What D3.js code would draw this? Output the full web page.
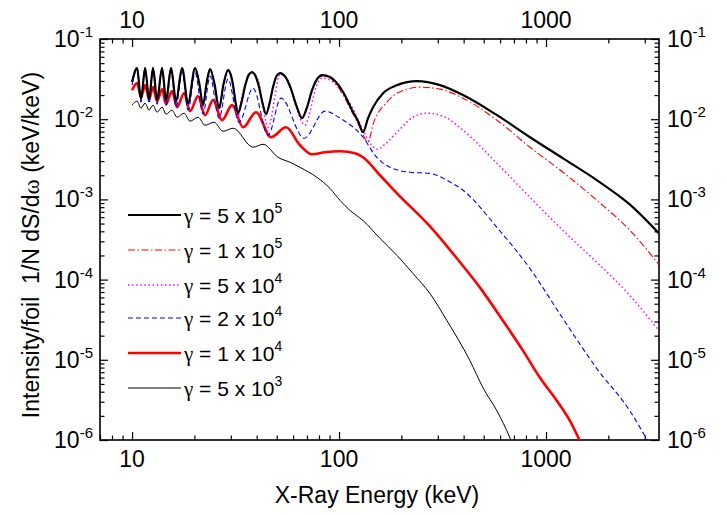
<!DOCTYPE html>
<html>
<head>
<meta charset="utf-8">
<script src="https://cdn.jsdelivr.net/npm/d3@7"></script>
<style>
  body { margin: 0; background: #fff; }
  svg { display: block; }
  text { font-family: "Liberation Sans", Arial, Helvetica, sans-serif; fill: #000; }
</style>
</head>
<body>
<svg id="chart" width="727" height="515"></svg>
<script>
// Tick labels
const energyTicks = [10, 100, 1000];
const intensityExponents = [-1, -2, -3, -4, -5, -6];

// Legend text: gamma = mantissa x 10^exponent
const legendMantissa = ["5", "1", "5", "2", "1", "5"];
const legendExponent = ["5", "5", "4", "4", "4", "3"];

// Spectra: [X-ray energy (keV), intensity per foil (keV/keV)]
const gamma5e5 = [
  [10.0, 0.0290], [10.57, 0.0434], [11.05, 0.0178], [11.56, 0.0434], [12.08, 0.0178],
  [12.63, 0.0434], [13.21, 0.0173], [13.96, 0.0434], [14.60, 0.0173], [15.43, 0.0434],
  [16.31, 0.0168], [17.44, 0.0434], [18.64, 0.0158], [20.16, 0.0434], [21.07, 0.0290],
  [22.03, 0.0150], [22.91, 0.0282], [23.81, 0.0422], [25.03, 0.0274], [26.32, 0.0137],
  [27.67, 0.0274], [29.09, 0.0410], [29.91, 0.0365], [30.76, 0.0266], [31.62, 0.0163],
  [32.51, 0.0119], [33.81, 0.0163], [35.15, 0.0259], [36.54, 0.0355], [37.99, 0.0387],
  [39.50, 0.0345], [41.07, 0.0251], [42.71, 0.0158], [44.39, 0.0116], [46.16, 0.0158],
  [47.99, 0.0251], [49.90, 0.0345], [51.87, 0.0376], [55.15, 0.0335], [58.63, 0.0237],
  [62.32, 0.01454], [66.26, 0.0103], [70.06, 0.01413], [74.06, 0.0230], [78.30, 0.0316],
  [82.77, 0.0355], [90.48, 0.0335], [104.6, 0.0218], [115.6, 0.01296], [123.6, 0.00944],
  [130.6, 0.00688], [138.1, 0.0103], [146.0, 0.0141], [163.2, 0.0211], [190.6, 0.0266],
  [238.1, 0.0299], [307.6, 0.0266], [397.2, 0.0200], [579.8, 0.01122], [837, 0.00596],
  [1208, 0.00325], [1764, 0.00173], [2546, 0.00086], [3515, 0.000376]
];

const gamma1e5 = [
  [10.0, 0.0290], [10.57, 0.0434], [11.05, 0.0178], [11.56, 0.0434], [12.08, 0.0178],
  [12.63, 0.0434], [13.21, 0.0173], [13.96, 0.0434], [14.60, 0.0173], [15.43, 0.0434],
  [16.31, 0.0168], [17.44, 0.0434], [18.64, 0.0158], [20.16, 0.0434], [21.07, 0.0290],
  [22.03, 0.0150], [22.91, 0.0282], [23.81, 0.0422], [25.03, 0.0274], [26.32, 0.0137],
  [27.67, 0.0274], [29.09, 0.0410], [29.91, 0.0365], [30.76, 0.0266], [31.62, 0.0163],
  [32.51, 0.0119], [33.81, 0.0163], [35.15, 0.0259], [36.54, 0.0355], [37.99, 0.0387],
  [39.50, 0.0345], [41.07, 0.0251], [42.71, 0.0158], [44.39, 0.0116], [46.16, 0.0158],
  [47.99, 0.0251], [49.90, 0.0345], [51.87, 0.0376], [55.15, 0.0335], [58.63, 0.0237],
  [62.32, 0.01454], [66.26, 0.0103], [70.06, 0.01413], [74.06, 0.0230], [78.30, 0.0316],
  [82.77, 0.0345], [90.48, 0.0326], [104.6, 0.0200], [115.6, 0.01223], [126.3, 0.00794],
  [138.1, 0.00516], [146.0, 0.00866], [170.6, 0.01631], [190.6, 0.0211], [246.2, 0.0251],
  [307.6, 0.0237], [397.2, 0.0183], [579.8, 0.00972], [837, 0.00447], [1208, 0.00218],
  [1764, 0.000972], [2546, 0.00041], [3515, 0.000154]
];

const gamma5e4 = [
  [10.0, 0.0290], [10.57, 0.0434], [11.05, 0.0178], [11.56, 0.0434], [12.08, 0.0178],
  [12.63, 0.0434], [13.21, 0.0173], [13.96, 0.0434], [14.60, 0.0173], [15.43, 0.0434],
  [16.31, 0.0168], [17.44, 0.0434], [18.64, 0.0155], [20.16, 0.0434], [21.07, 0.0285],
  [22.03, 0.0145], [22.91, 0.0278], [23.81, 0.0422], [25.03, 0.0270], [26.32, 0.0130],
  [27.67, 0.0270], [29.09, 0.0410], [30.08, 0.0345], [31.45, 0.0183], [32.51, 0.0106],
  [33.62, 0.0173], [35.54, 0.0290], [37.99, 0.0376], [40.62, 0.0307], [42.46, 0.0173],
  [44.39, 0.00917], [45.39, 0.00794], [46.93, 0.0100], [49.07, 0.0200], [51.87, 0.0365],
  [56.70, 0.0307], [61.32, 0.0158], [66.26, 0.00917], [68.50, 0.00841], [71.62, 0.01122],
  [76.58, 0.0230], [82.77, 0.0326], [90.48, 0.0307], [104.6, 0.0211], [115.6, 0.01413],
  [130.6, 0.00729], [141.2, 0.00501], [152.6, 0.00422], [166.8, 0.00487], [190.6, 0.00688],
  [227.8, 0.0106], [266.2, 0.0119], [332.4, 0.0103], [397.2, 0.00729], [579.8, 0.00282],
  [837, 0.00106], [1208, 0.00041], [1764, 0.000163], [2546, 6.31e-5], [3515, 2.30e-5]
];

const gamma2e4 = [
  [10.0, 0.0266], [10.57, 0.0422], [11.05, 0.0163], [11.56, 0.0422], [12.08, 0.0158],
  [12.63, 0.0410], [13.21, 0.0154], [13.96, 0.0410], [14.60, 0.0150], [15.43, 0.0398],
  [16.31, 0.0141], [17.44, 0.0387], [18.64, 0.0130], [20.16, 0.0376], [22.03, 0.0116],
  [23.81, 0.0345], [26.32, 0.0103], [29.09, 0.0316], [32.88, 0.00917], [38.42, 0.0244],
  [45.39, 0.00631], [52.46, 0.0183], [67.75, 0.00579], [85.58, 0.0126], [101.1, 0.0103],
  [130.6, 0.00596], [149.3, 0.00355], [176.4, 0.00251], [220.3, 0.00218], [275.2, 0.00211],
  [332.4, 0.00173], [397.2, 0.00130], [579.8, 0.000447], [837, 0.000137], [1208, 3.25e-5],
  [1764, 7.72e-6], [2546, 2.30e-6], [3110, 9.7e-7], [3560, 5.5e-7]
];

const gamma1e4 = [
  [10.0, 0.0230], [10.57, 0.0282], [11.05, 0.0188], [11.56, 0.0266], [12.08, 0.0178],
  [12.63, 0.0251], [13.21, 0.0168], [13.96, 0.0237], [14.60, 0.0154], [15.60, 0.0224],
  [16.50, 0.0141], [17.83, 0.0211], [19.06, 0.0126], [20.84, 0.0194], [22.52, 0.0112],
  [24.62, 0.0173], [27.21, 0.00972], [30.42, 0.0150], [34.38, 0.00794], [39.72, 0.0122],
  [46.93, 0.00596], [55.46, 0.00794], [64.80, 0.00473], [74.06, 0.00365], [85.58, 0.00387],
  [101.1, 0.00398], [119.5, 0.00376], [130.6, 0.00335], [157.8, 0.00200], [190.6, 0.00119],
  [275.2, 0.000460], [371.6, 0.000183], [480, 7.94e-5], [619.8, 3.07e-5], [774.3, 1.30e-5],
  [935.5, 5.96e-6], [1130, 3.07e-6], [1306, 1.73e-6], [1460, 9.7e-7], [1561, 6.9e-7]
];

const gamma5e3 = [
  [10.0, 0.01496], [10.57, 0.01679], [11.05, 0.01372], [11.56, 0.01585], [12.08, 0.01296],
  [12.63, 0.01496], [13.21, 0.01223], [13.96, 0.01413], [14.60, 0.01155], [15.60, 0.01296],
  [16.50, 0.01059], [17.83, 0.01189], [19.06, 0.00944], [20.84, 0.01059], [22.52, 0.00841],
  [24.90, 0.00917], [27.52, 0.00708], [30.76, 0.00772], [38.42, 0.00447], [42.94, 0.00487],
  [50.73, 0.00335], [57.98, 0.00290], [64.80, 0.00251], [78.30, 0.00188], [90.48, 0.00137],
  [101.1, 0.000972], [113.0, 0.000729], [130.6, 0.000546], [157.8, 0.000326], [190.6, 0.000200],
  [227.8, 0.000119], [275.2, 6.68e-5], [332.4, 3.07e-5], [429.4, 9.72e-6], [496.3, 4.47e-6],
  [579.8, 2.30e-6], [669.9, 1.06e-6], [716.3, 6.9e-7]
];

const series = [
  { data: gamma5e5, color: "#000000", width: 2.2, dash: null },
  { data: gamma1e5, color: "#ff0000", width: 1.1, dash: "7,2.5,1.5,2.5" },
  { data: gamma5e4, color: "#ff00ff", width: 1.5, dash: "1.5,2.6" },
  { data: gamma2e4, color: "#0000ff", width: 1.1, dash: "5,3" },
  { data: gamma1e4, color: "#ff0000", width: 2.6, dash: null },
  { data: gamma5e3, color: "#000000", width: 1.0, dash: null }
];

const plotLeft = 100, plotRight = 659, plotTop = 39, plotBottom = 440;

const x = d3.scaleLog().domain([7, 3515]).range([plotLeft, plotRight]);
const y = d3.scaleLog().domain([1e-6, 1e-1]).range([plotBottom, plotTop]);

const svg = d3.select("#chart");

svg.append("defs").append("clipPath").attr("id", "plot-clip")
  .append("rect").attr("x", plotLeft).attr("y", plotTop)
  .attr("width", plotRight - plotLeft).attr("height", plotBottom - plotTop);

// Minor and major tick positions
const xMinor = [];
[1, 10, 100, 1000].forEach(d => {
  for (let k = 2; k <= 9; k++) { const v = d * k; if (v >= 7 && v <= 3515) xMinor.push(v); }
});
const yMajor = intensityExponents.map(e => Math.pow(10, e));
const yMinor = [];
[1e-6, 1e-5, 1e-4, 1e-3, 1e-2].forEach(d => { for (let k = 2; k <= 9; k++) yMinor.push(d * k); });

function tickAxis(axisFn, scale, values, size) {
  return axisFn(scale).tickValues(values).tickSizeInner(size).tickSizeOuter(0).tickFormat("");
}

const axes = svg.append("g").attr("class", "axes");
const addAxis = (fn, scale, vals, size, tx, ty) => {
  const g = axes.append("g").attr("transform", `translate(${tx},${ty})`).call(tickAxis(fn, scale, vals, size));
  g.select(".domain").remove();
  g.selectAll(".tick line").attr("stroke", "#000").attr("stroke-width", 1.2);
};
addAxis(d3.axisBottom, x, energyTicks, -8, 0, plotBottom);
addAxis(d3.axisBottom, x, xMinor, -4.5, 0, plotBottom);
addAxis(d3.axisTop, x, energyTicks, -8, 0, plotTop);
addAxis(d3.axisTop, x, xMinor, -4.5, 0, plotTop);
addAxis(d3.axisLeft, y, yMajor, -8, plotLeft, 0);
addAxis(d3.axisLeft, y, yMinor, -4.5, plotLeft, 0);
addAxis(d3.axisRight, y, yMajor, -8, plotRight, 0);
addAxis(d3.axisRight, y, yMinor, -4.5, plotRight, 0);

// Frame
svg.append("rect").attr("x", plotLeft).attr("y", plotTop)
  .attr("width", plotRight - plotLeft).attr("height", plotBottom - plotTop)
  .attr("fill", "none").attr("stroke", "#000").attr("stroke-width", 1.6);

// Curves
const line = d3.line().x(d => x(d[0])).y(d => y(d[1])).curve(d3.curveMonotoneX);
const curves = svg.append("g").attr("clip-path", "url(#plot-clip)");
series.slice().reverse().forEach(s => {
  curves.append("path").datum(s.data)
    .attr("d", line)
    .attr("fill", "none")
    .attr("stroke", s.color)
    .attr("stroke-width", s.width)
    .attr("stroke-dasharray", s.dash)
    .attr("stroke-linejoin", "round");
});

// Energy tick labels, top and bottom
const fmtE = d => String(d);
svg.append("g").selectAll("text").data(energyTicks).join("text")
  .attr("x", d => x(d)).attr("y", 467).attr("text-anchor", "middle")
  .attr("font-size", 23).text(fmtE);
svg.append("g").selectAll("text").data(energyTicks).join("text")
  .attr("x", d => x(d)).attr("y", 28).attr("text-anchor", "middle")
  .attr("font-size", 23).text(fmtE);

// Intensity tick labels (powers of ten), left and right
function powerLabel(g, xPos, anchor) {
  const t = g.selectAll("text").data(intensityExponents).join("text")
    .attr("x", xPos).attr("y", e => y(Math.pow(10, e)) + 8)
    .attr("text-anchor", anchor).attr("font-size", 23);
  t.append("tspan").text("10");
  t.append("tspan").attr("font-size", 15).attr("dy", -10).text(e => String(e));
}
powerLabel(svg.append("g"), plotLeft - 7, "end");
powerLabel(svg.append("g"), plotRight + 8, "start");

// Axis titles
svg.append("text").attr("x", 377).attr("y", 503).attr("text-anchor", "middle")
  .attr("font-size", 23).text("X-Ray Energy (keV)");
const yTitle = svg.append("text").attr("transform", "translate(39,245) rotate(-90)")
  .attr("text-anchor", "middle").attr("font-size", 23)
  .style("white-space", "pre");
yTitle.append("tspan").text("Intensity/foil  1/N dS/d");
yTitle.append("tspan").style("font-family", "'Liberation Serif', serif").text("\u03C9");
yTitle.append("tspan").text(" (keV/keV)");

// Legend
const legendRows = [215, 250, 285, 318, 353, 388];
const legend = svg.append("g");
series.forEach((s, i) => {
  const ly = legendRows[i];
  legend.append("line").attr("x1", 128).attr("x2", 181).attr("y1", ly).attr("y2", ly)
    .attr("stroke", s.color).attr("stroke-width", s.width).attr("stroke-dasharray", s.dash);
  const t = legend.append("text").attr("x", 184).attr("y", ly + 8).attr("font-size", 21)
    .style("white-space", "pre");
  t.append("tspan").style("font-family", "'Liberation Serif', serif").text("\u03B3");
  t.append("tspan").text(` = ${legendMantissa[i]} x 10`);
  t.append("tspan").attr("font-size", 14).attr("dy", -10).text(legendExponent[i]);
});
</script>
</body>
</html>
